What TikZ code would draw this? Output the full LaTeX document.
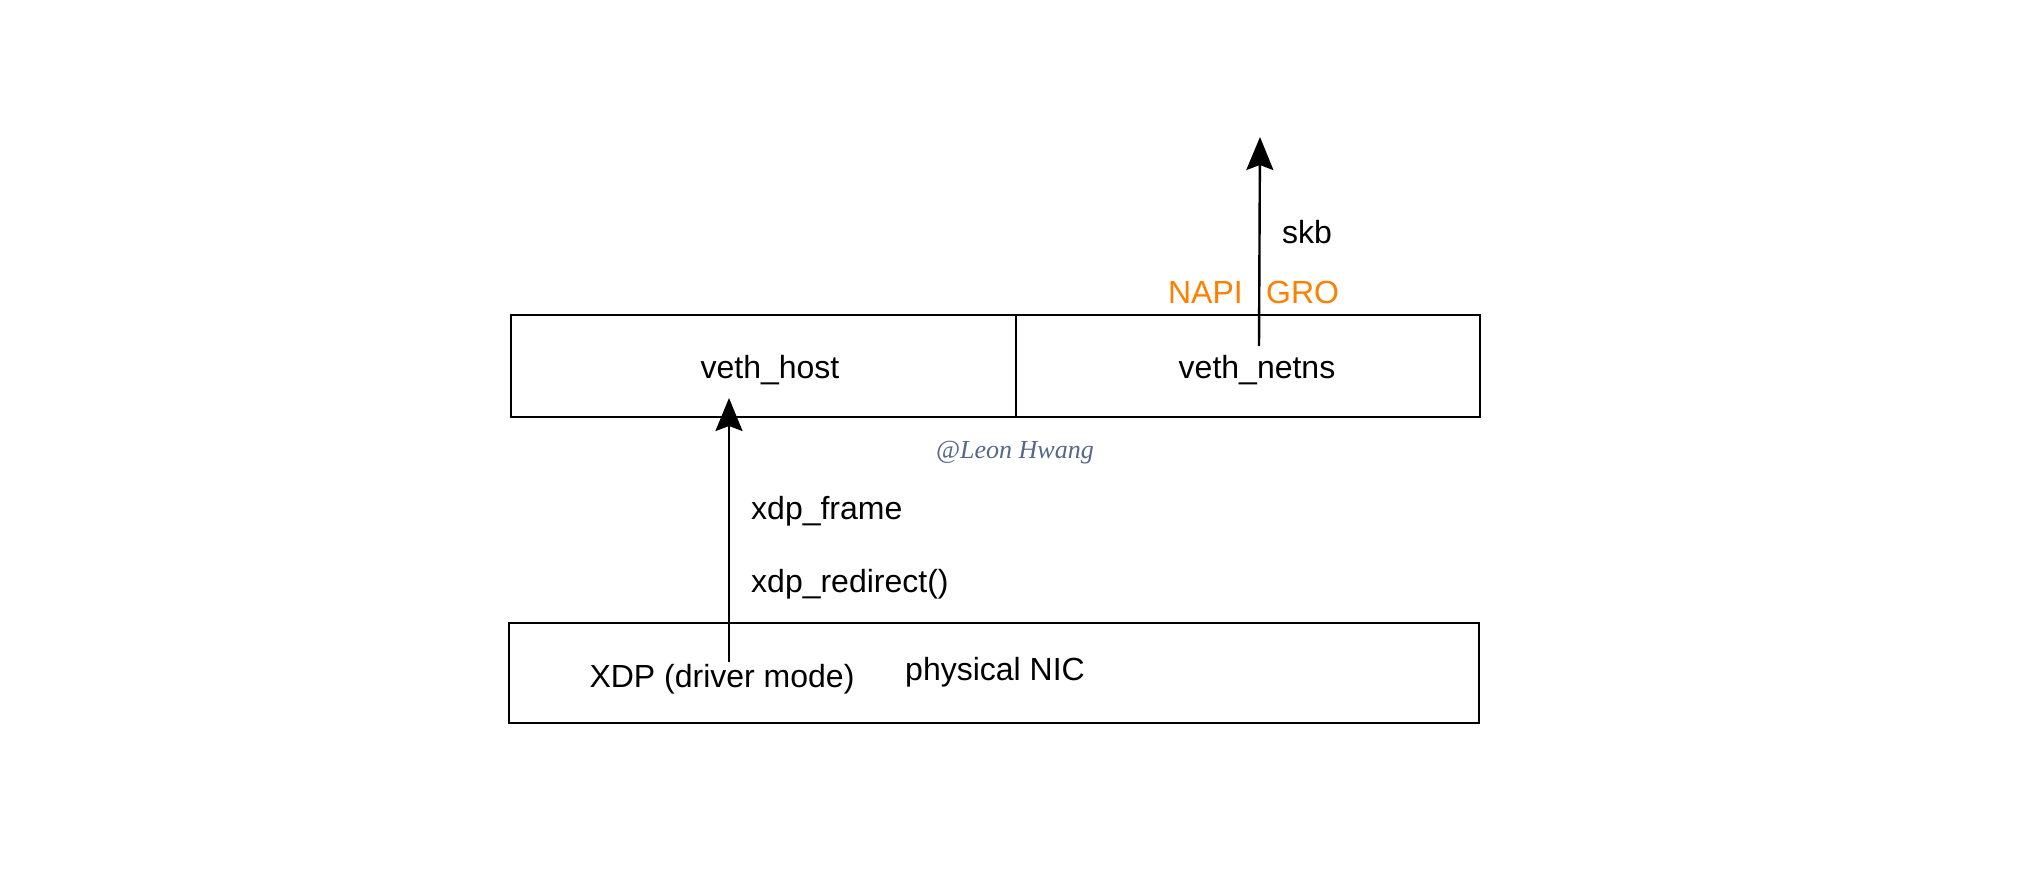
\documentclass[tikz,border=0pt]{standalone}
\usepackage{fontspec}
\setmainfont{Liberation Sans}
\newfontfamily\sigfont{Liberation Serif}
\usetikzlibrary{arrows.meta}
\definecolor{napiorange}{HTML}{FF7F00}
\definecolor{sigcolor}{HTML}{56688A}
\begin{document}
\begin{tikzpicture}[x=1pt,y=-1pt,
  boxstyle/.style={draw, line width=2.6pt, inner sep=0pt},
  lbl/.style={font=\fontsize{32}{38}\selectfont, inner sep=0pt},
  orangelbl/.style={lbl, text=napiorange},
  siglbl/.style={font=\sigfont\itshape\fontsize{26}{30}\selectfont, text=sigcolor, inner sep=0pt},
  flow/.style={line width=2.4pt, -{Stealth[length=33pt,width=27pt,inset=5pt]}}]
\useasboundingbox[fill=white] (0,0) rectangle (2040,880);

% boxes
\node[boxstyle, minimum width=505pt, minimum height=102pt] (host) at (763.5,366) {};
\node[boxstyle, minimum width=464pt, minimum height=102pt] (netns) at (1248,366) {};
\node[boxstyle, minimum width=970pt, minimum height=100pt] (nic) at (994,673) {};

% labels
\node[lbl, anchor=base] (hostlbl) at (770,378) {veth\_host};
\node[lbl, anchor=base] (netnslbl) at (1257,378) {veth\_netns};
\node[lbl, anchor=base] (xdplbl) at (722,687) {XDP (driver mode)};
\node[lbl, anchor=base west] (niclbl) at (905,680) {physical NIC};
\node[lbl, anchor=base west] (framelbl) at (751,519) {xdp\_frame};
\node[lbl, anchor=base west] (redirlbl) at (751,592) {xdp\_redirect()};
\node[lbl, anchor=base west] (skblbl) at (1282,243) {skb};
\node[orangelbl, anchor=base east] (napilbl) at (1243,303) {NAPI};
\node[orangelbl, anchor=base west] (grolbl) at (1266,303) {GRO};
\node[siglbl, anchor=base] (sig) at (1015,458) {@Leon Hwang};

% arrows
\coordinate (xdpstart) at (729,662);
\coordinate (hostin) at (729,398);
\coordinate (netnsstart) at (1259,346);
\coordinate (stackup) at (1260,137);
\draw[flow] (xdpstart) -- (hostin);
\draw[flow] (netnsstart) -- (stackup);
\end{tikzpicture}
\end{document}
